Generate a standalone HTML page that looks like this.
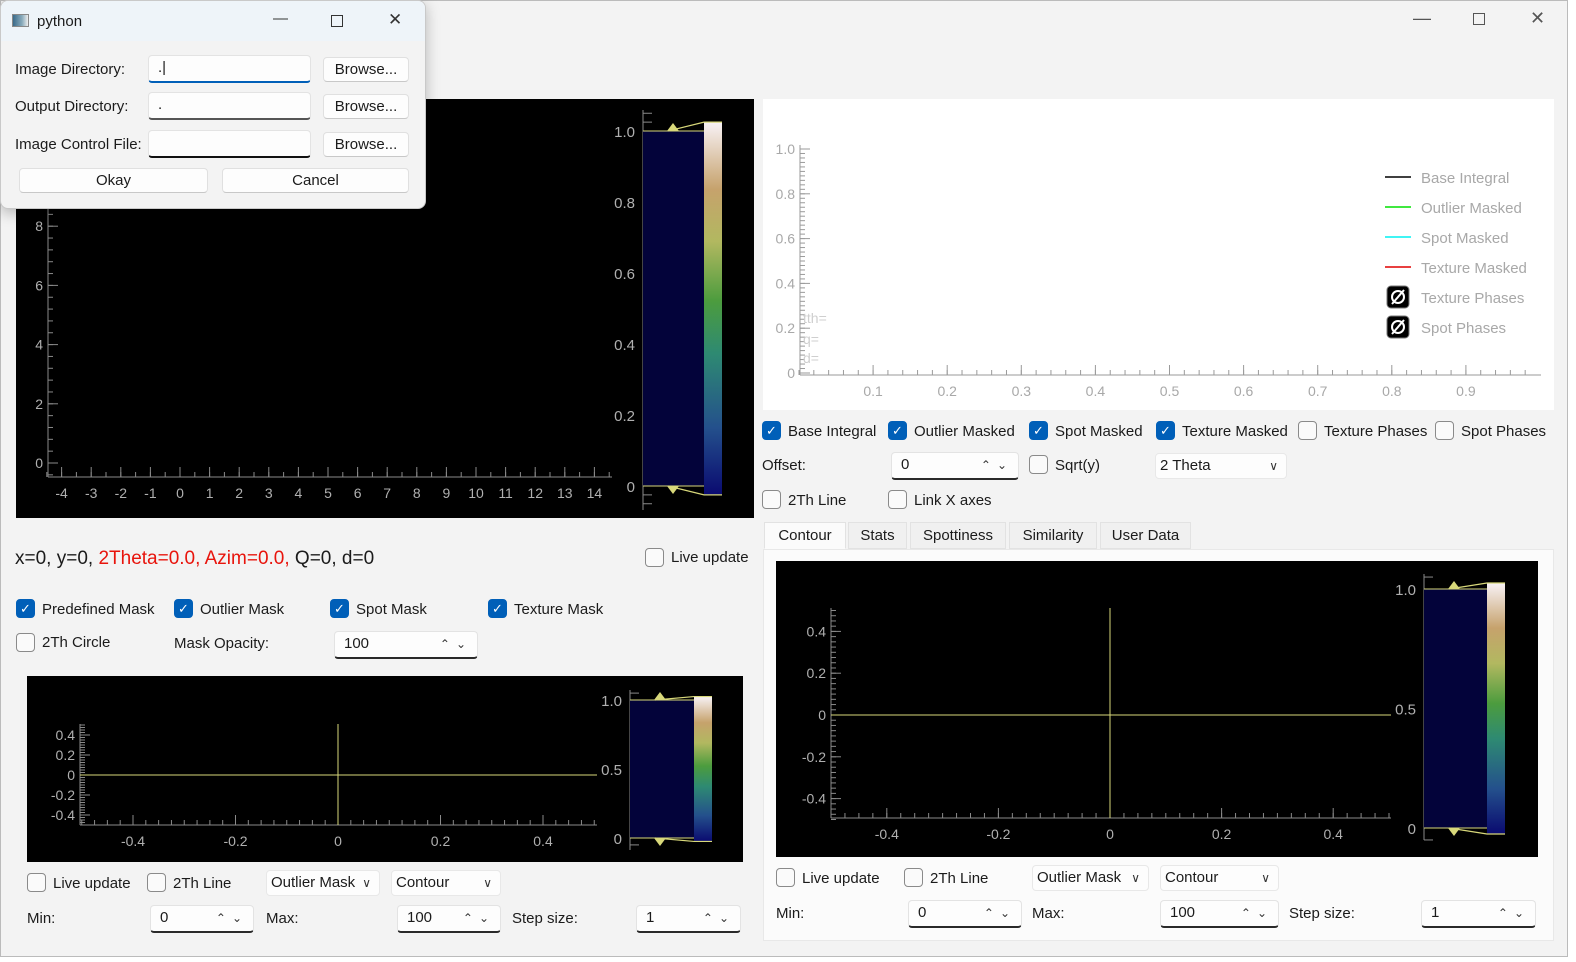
<!DOCTYPE html>
<html><head><meta charset="utf-8">
<style>
*{box-sizing:border-box}
body{margin:0;width:1576px;height:962px;overflow:hidden;background:#fff;font-family:"Liberation Sans",sans-serif}
#win{position:absolute;left:0;top:0;width:1568px;height:957px;background:#f3f3f3;border:1px solid #bbb}
.t{position:absolute;font-size:15px;color:#1b1b1b;white-space:nowrap;line-height:18px}
.cb{position:absolute;width:19px;height:19px;border:1px solid #8a8a8a;border-radius:4px;background:#fafafa}
.cb.on{background:#005fb8;border-color:#005fb8;color:#fff;font-size:13px;line-height:17px;text-align:center}
.spin{position:absolute;height:28px;background:#fdfdfd;border:1px solid #e3e3e3;border-radius:4px;border-bottom:2px solid #2a2a2a;font-size:15px;line-height:24px;padding-left:9px;color:#1b1b1b}
.spin .ar{position:absolute;right:5px;top:0;font-size:12px;color:#333;letter-spacing:6px}
.combo{position:absolute;height:26px;background:#fdfdfd;border:1px solid #e8e8e8;border-radius:4px;font-size:15px;line-height:24px;padding-left:4px;color:#1b1b1b}
.combo .ar{position:absolute;right:8px;top:0;font-size:12px;color:#333}
.btn{position:absolute;height:25px;background:#fdfdfd;border:1px solid #e0e0e0;border-bottom-color:#c8c8c8;border-radius:4px;font-size:15px;line-height:23px;text-align:center;color:#1b1b1b}
.tab{position:absolute;top:521px;height:27px;background:#f0f0f0;border:1px solid #e2e2e2;font-size:15px;line-height:25px;text-align:center;color:#1b1b1b}
#ov{position:absolute;left:0;top:0;z-index:1}
#dlg{position:absolute;left:0;top:0;width:426px;height:209px;background:#f3f3f3;border:1px solid #c9c9c9;border-radius:8px;z-index:2;box-shadow:0 4px 14px rgba(0,0,0,.25);overflow:hidden}
</style></head><body>
<div id="win">
  <div class="t" style="left:1412px;top:8px;font-size:18px;color:#555">—</div>
  <div style="position:absolute;left:1472px;top:12px;width:12px;height:12px;border:1px solid #555"></div>
  <div class="t" style="left:1529px;top:8px;font-size:18px;color:#555">✕</div>

  <div style="position:absolute;left:15px;top:98px;width:738px;height:419px;background:#000"></div>
  <div style="position:absolute;left:762px;top:98px;width:791px;height:311px;background:#fff"></div>

  <div class="t" style="left:14px;top:547px;font-size:19px;line-height:22px">x=0, y=0, <span style="color:#e8140c">2Theta=0.0, Azim=0.0,</span> Q=0, d=0</div>
  <div class="cb" style="left:644px;top:547px"></div>
  <div class="t" style="left:670px;top:548px">Live update</div>

  <div class="cb on" style="left:15px;top:598px">✓</div>
  <div class="t" style="left:41px;top:600px">Predefined Mask</div>
  <div class="cb on" style="left:173px;top:598px">✓</div>
  <div class="t" style="left:199px;top:600px">Outlier Mask</div>
  <div class="cb on" style="left:329px;top:598px">✓</div>
  <div class="t" style="left:355px;top:600px">Spot Mask</div>
  <div class="cb on" style="left:487px;top:598px">✓</div>
  <div class="t" style="left:513px;top:600px">Texture Mask</div>
  <div class="cb" style="left:15px;top:632px"></div>
  <div class="t" style="left:41px;top:633px">2Th Circle</div>
  <div class="t" style="left:173px;top:634px">Mask Opacity:</div>
  <div class="spin" style="left:333px;top:630px;width:144px">100<span class="ar">⌃⌄</span></div>

  <div style="position:absolute;left:26px;top:675px;width:716px;height:186px;background:#000"></div>

  <div class="cb" style="left:26px;top:872px"></div>
  <div class="t" style="left:52px;top:874px">Live update</div>
  <div class="cb" style="left:146px;top:872px"></div>
  <div class="t" style="left:172px;top:874px">2Th Line</div>
  <div class="combo" style="left:265px;top:869px;width:114px">Outlier Mask<span class="ar">∨</span></div>
  <div class="combo" style="left:390px;top:869px;width:110px">Contour<span class="ar">∨</span></div>
  <div class="t" style="left:26px;top:909px">Min:</div>
  <div class="spin" style="left:149px;top:904px;width:104px">0<span class="ar">⌃⌄</span></div>
  <div class="t" style="left:265px;top:909px">Max:</div>
  <div class="spin" style="left:396px;top:904px;width:104px">100<span class="ar">⌃⌄</span></div>
  <div class="t" style="left:511px;top:909px">Step size:</div>
  <div class="spin" style="left:635px;top:904px;width:105px">1<span class="ar">⌃⌄</span></div>

  <div class="cb on" style="left:761px;top:420px">✓</div>
  <div class="t" style="left:787px;top:422px">Base Integral</div>
  <div class="cb on" style="left:887px;top:420px">✓</div>
  <div class="t" style="left:913px;top:422px">Outlier Masked</div>
  <div class="cb on" style="left:1028px;top:420px">✓</div>
  <div class="t" style="left:1054px;top:422px">Spot Masked</div>
  <div class="cb on" style="left:1155px;top:420px">✓</div>
  <div class="t" style="left:1181px;top:422px">Texture Masked</div>
  <div class="cb" style="left:1297px;top:420px"></div>
  <div class="t" style="left:1323px;top:422px">Texture Phases</div>
  <div class="cb" style="left:1434px;top:420px"></div>
  <div class="t" style="left:1460px;top:422px">Spot Phases</div>
  <div class="t" style="left:761px;top:456px">Offset:</div>
  <div class="spin" style="left:890px;top:451px;width:128px">0<span class="ar">⌃⌄</span></div>
  <div class="cb" style="left:1028px;top:454px"></div>
  <div class="t" style="left:1054px;top:456px">Sqrt(y)</div>
  <div class="combo" style="left:1154px;top:452px;width:132px">2 Theta<span class="ar">∨</span></div>
  <div class="cb" style="left:761px;top:489px"></div>
  <div class="t" style="left:787px;top:491px">2Th Line</div>
  <div class="cb" style="left:887px;top:489px"></div>
  <div class="t" style="left:913px;top:491px">Link X axes</div>

  <div class="tab" style="left:763px;width:82px;background:#fbfbfb;border-bottom-color:#fbfbfb">Contour</div>
  <div class="tab" style="left:847px;width:59px">Stats</div>
  <div class="tab" style="left:909px;width:96px">Spottiness</div>
  <div class="tab" style="left:1008px;width:88px">Similarity</div>
  <div class="tab" style="left:1099px;width:91px">User Data</div>
  <div style="position:absolute;left:762px;top:548px;width:791px;height:392px;background:#fbfbfb;border:1px solid #e8e8e8"></div>
  <div style="position:absolute;left:775px;top:560px;width:762px;height:296px;background:#000"></div>
  <div class="cb" style="left:775px;top:867px"></div>
  <div class="t" style="left:801px;top:869px">Live update</div>
  <div class="cb" style="left:903px;top:867px"></div>
  <div class="t" style="left:929px;top:869px">2Th Line</div>
  <div class="combo" style="left:1031px;top:864px;width:117px">Outlier Mask<span class="ar">∨</span></div>
  <div class="combo" style="left:1159px;top:864px;width:119px">Contour<span class="ar">∨</span></div>
  <div class="t" style="left:775px;top:904px">Min:</div>
  <div class="spin" style="left:907px;top:899px;width:114px">0<span class="ar">⌃⌄</span></div>
  <div class="t" style="left:1031px;top:904px">Max:</div>
  <div class="spin" style="left:1159px;top:899px;width:119px">100<span class="ar">⌃⌄</span></div>
  <div class="t" style="left:1288px;top:904px">Step size:</div>
  <div class="spin" style="left:1420px;top:899px;width:115px">1<span class="ar">⌃⌄</span></div>
</div>

<svg id="ov" width="1576" height="962">
<defs><linearGradient id="cmap" x1="0" y1="1" x2="0" y2="0">
<stop offset="0" stop-color="#0a0a70"/><stop offset="0.18" stop-color="#24508c"/><stop offset="0.38" stop-color="#2e8a72"/><stop offset="0.52" stop-color="#4c9c3e"/><stop offset="0.68" stop-color="#b2b860"/><stop offset="0.82" stop-color="#c6a26c"/><stop offset="1" stop-color="#f8f2f6"/></linearGradient></defs>
</svg>

<div id="dlg">
  <div style="position:absolute;left:0;top:0;width:426px;height:40px;background:#eef4f9"></div>
  <div style="position:absolute;left:11px;top:13px;width:17px;height:13px;border:1px solid #888;background:linear-gradient(90deg,#3a6a8a,#8ab 60%,#eee)"></div>
  <div class="t" style="left:36px;top:12px">python</div>
  <div class="t" style="left:272px;top:9px;color:#333">—</div>
  <div style="position:absolute;left:330px;top:14px;width:12px;height:12px;border:1.5px solid #333"></div>
  <div class="t" style="left:387px;top:10px;font-size:17px;color:#333">✕</div>
  <div class="t" style="left:14px;top:60px">Image Directory:</div>
  <div class="spin" style="left:147px;top:54px;width:163px;border-bottom-color:#005fb8">.|</div>
  <div class="btn" style="left:322px;top:56px;width:86px">Browse...</div>
  <div class="t" style="left:14px;top:97px">Output Directory:</div>
  <div class="spin" style="left:147px;top:91px;width:163px;border-bottom-color:#555">.</div>
  <div class="btn" style="left:322px;top:93px;width:86px">Browse...</div>
  <div class="t" style="left:14px;top:135px">Image Control File:</div>
  <div class="spin" style="left:147px;top:129px;width:163px;border-bottom-color:#111"></div>
  <div class="btn" style="left:322px;top:131px;width:86px">Browse...</div>
  <div class="btn" style="left:18px;top:167px;width:189px">Okay</div>
  <div class="btn" style="left:221px;top:167px;width:187px">Cancel</div>
</div>

<script>
// ---- chart data ----
const imgXTicks = [-4,-3,-2,-1,0,1,2,3,4,5,6,7,8,9,10,11,12,13,14];
const imgYTicks = [0,2,4,6,8];
const cbarTicksFine = [0,0.2,0.4,0.6,0.8,1.0];
const cbarTicksHalf = [0,0.5,1.0];
const intXTicks = [0.1,0.2,0.3,0.4,0.5,0.6,0.7,0.8,0.9];
const intYTicks = [0,0.2,0.4,0.6,0.8,1.0];
const polXTicks = [-0.4,-0.2,0,0.2,0.4];
const polYTicks = [-0.4,-0.2,0,0.2,0.4];
const crossX = [0];
const crossY = [0];
const cbarLevels = [0,1];
const legendNames = ["Base Integral","Outlier Masked","Spot Masked","Texture Masked","Texture Phases","Spot Phases"];
const legendColors = ["#000000","#00e000","#00f0f0","#e00000",null,null];

const svg = document.getElementById('ov');
const NS = 'http://www.w3.org/2000/svg';
function mk(tag, attrs){ const e=document.createElementNS(NS,tag); for(const k in attrs) e.setAttribute(k,attrs[k]); svg.appendChild(e); return e; }
function line(x1,y1,x2,y2,c,w){ return mk('line',{x1,y1,x2,y2,stroke:c,'stroke-width':w||1}); }
function txt(x,y,s,anchor,c,size){ const e=mk('text',{x,y,'text-anchor':anchor,fill:c,'font-size':size||14,'font-family':'Liberation Sans, sans-serif'}); e.textContent=s; return e; }
function fmt(v){ return (Math.abs(v)<1e-9)?'0':(Number.isInteger(v)?String(v):v.toFixed(1)); }
function fmt1(v){ return (Math.abs(v)<1e-9)?'0':v.toFixed(1); }

function xAxis(sx, yPos, x0, x1, ticks, minorStep, vmin, vmax, c, lc, f){
  const a=line(x0,yPos,x1,yPos,c);
   
  for(let v=vmin; v<=vmax+1e-9; v+=minorStep){ line(sx(v),yPos,sx(v),yPos-5,c); }
  ticks.forEach(v=>{ line(sx(v),yPos,sx(v),yPos-10,c);
    const t=txt(sx(v),yPos+21,f(v),'middle',lc);
      });
}
function yAxis(sy, xPos, y0, y1, ticks, minorStep, vmin, vmax, c, lc, f){
  const a=line(xPos,y0,xPos,y1,c);
   
  for(let v=vmin; v<=vmax+1e-9; v+=minorStep){ line(xPos,sy(v),xPos+5,sy(v),c); }
  ticks.forEach(v=>{ line(xPos,sy(v),xPos+10,sy(v),c);
    const t=txt(xPos-5,sy(v)+5,f(v),'end',lc);
      });
}
function colorbar(sy, ax, top, bot, gx, ticks, minorStep){
  const c='#8a8a8a';
  const a=line(ax,top,ax,bot,c);
   
  for(let v=-0.05; v<=1.05+1e-9; v+=minorStep){ line(ax,sy(v),ax+9,sy(v),c); }
  ticks.forEach(v=>{ line(ax,sy(v),ax+13,sy(v),c);
    const t=txt(ax-8,sy(v)+6,fmt1(v),'end','#b0b0b0',15);
      });
  const r=mk('rect',{x:ax,y:sy(1),width:gx-ax,height:sy(0)-sy(1),fill:'#03033a'});
   
  const g=mk('rect',{x:gx,y:sy(1.025),width:18,height:sy(-0.025)-sy(1.025),fill:'url(#cmap)'});
   
  cbarLevels.forEach(v=>{
    const y=sy(v), yy=sy(v>0.5?1.025:-0.025);
    line(ax,y,gx,y,'#d8d87a');
    mk('polyline',{points:`${ax+25},${y} ${gx},${yy} ${gx+18},${yy}`,fill:'none',stroke:'#d8d87a','stroke-width':1.2});
    const d=v>0.5?-1:1;
    const h=mk('polygon',{points:`${ax+24},${y} ${ax+36},${y} ${ax+30},${y+d*8}`,fill:'#d8d87a'});
     
  });
}

// image plot
(function(){
  const sx=v=>180+29.6*v, sy=v=>463-29.6*v;
  xAxis(sx,477,48,612,imgXTicks,0.5,-4.5,14.5,'#8a8a8a','#b0b0b0',fmt);
  yAxis(sy,48,130,477,imgYTicks,0.4,-0.4,10,'#8a8a8a','#b0b0b0',fmt);
  const cy=v=>486-355*v;
  colorbar(cy,643,110,510,704,cbarTicksFine,0.025);
})();

// integral plot
(function(){
  const sx=v=>799+741*v, sy=v=>373-224*v;
  xAxis(sx,375,800,1541,intXTicks,0.02,0,0.98,'#9a9a9a','#a8a8a8',fmt1);
  yAxis(sy,800,145,375,intYTicks,0.02,0,1.0,'#9a9a9a','#a8a8a8',fmt1);
  [['tth=',323],['q=',344],['d=',363]].forEach(p=>{ const t=txt(803,p[1],p[0],'start','#cfcfcf',14);
      });
  legendNames.forEach((n,i)=>{
    const y=177+30*i;
    if(legendColors[i]){ const l=line(1385,y,1411,y,legendColors[i],1.5);
        }
    else { const b=mk('rect',{x:1387,y:y-11,width:22,height:22,rx:4,fill:'#000',stroke:'#777'});
       
      mk('circle',{cx:1398,cy:y,r:6,fill:'none',stroke:'#fff','stroke-width':2});
      line(1392,y+7,1404,y-7,'#fff',2); }
    const t=txt(1421,y+6,n,'start','#a8a8a8',15);
     
  });
})();

function crossPlot(sx,sy,ax,ay,x1,ytop,ticksX,ticksY,cy,cax,ctop,cbot,cgx){
  xAxis(sx,ay,ax,x1,ticksX,0.025,-0.5,0.5,'#8a8a8a','#b0b0b0',fmt1);
  yAxis(sy,ax,ytop,ay,ticksY,0.025,-0.5,0.5,'#8a8a8a','#b0b0b0',fmt1);
  crossX.forEach(v=>{ const l=line(sx(v),ytop,sx(v),ay,'#d8d87a');
      });
  crossY.forEach(v=>{ const l=line(ax,sy(v),x1,sy(v),'#d8d87a');
      });
  colorbar(cy,cax,ctop,cbot,cgx,cbarTicksHalf,0.05);
}
// small polar plot
crossPlot(v=>338+512.5*v, v=>775-100*v, 80, 825, 597, 724, polXTicks, polYTicks, v=>838-138*v, 630, 690, 850, 694);
// contour plot
crossPlot(v=>1110+558*v, v=>715-209*v, 831, 818, 1391, 608, polXTicks, polYTicks, v=>828-239*v, 1424, 574, 840, 1487);
</script>
</body></html>
